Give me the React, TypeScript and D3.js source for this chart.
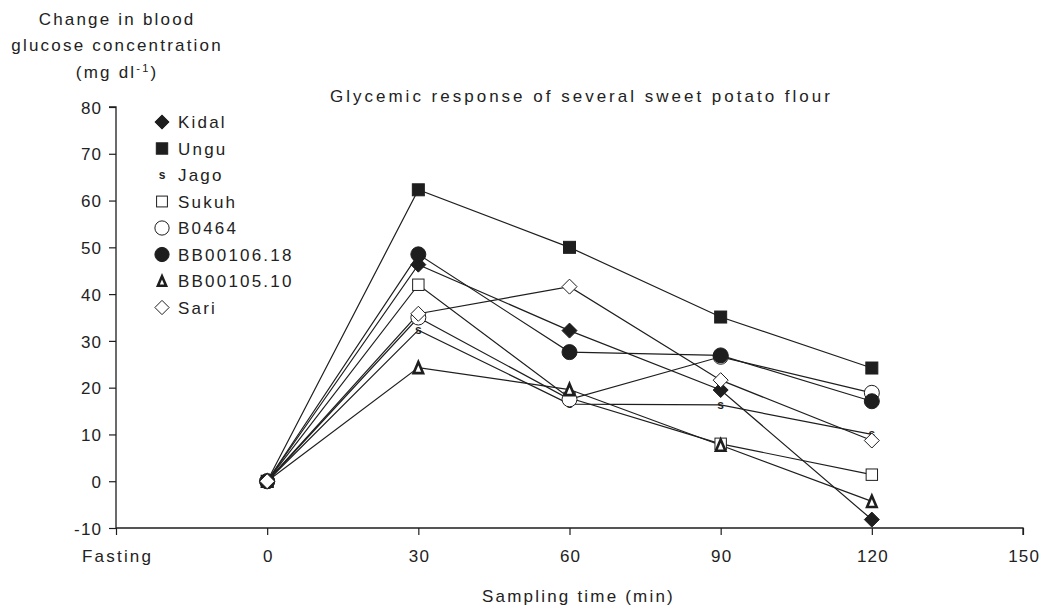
import React, { useEffect, useRef } from 'react';
import * as d3 from 'd3';

const times = [0, 30, 60, 90, 120];
const kidal = [0, 46.3, 32.2, 19.5, -8.2];
const ungu = [0, 62.3, 50.0, 35.1, 24.2];
const jago = [0, 32.3, 16.5, 16.3, 10.0];
const sukuh = [0, 42.0, 17.8, 8.0, 1.4];
const b0464 = [0, 35.0, 17.5, 26.6, 18.9];
const bb10618 = [0, 48.5, 27.6, 26.9, 17.1];
const bb10510 = [0, 24.3, 19.6, 7.7, -4.3];
const sari = [0, 35.8, 41.6, 21.6, 8.7];

const xTicks = [-30, 0, 30, 60, 90, 120, 150];
const xTickLabels = ['Fasting', '0', '30', '60', '90', '120', '150'];
const yTicks = [-10, 0, 10, 20, 30, 40, 50, 60, 70, 80];

const series = [
  { name: 'Kidal', values: kidal, marker: 'diamondFilled' },
  { name: 'Ungu', values: ungu, marker: 'squareFilled' },
  { name: 'Jago', values: jago, marker: 's' },
  { name: 'Sukuh', values: sukuh, marker: 'squareOpen' },
  { name: 'B0464', values: b0464, marker: 'circleOpen' },
  { name: 'BB00106.18', values: bb10618, marker: 'circleFilled' },
  { name: 'BB00105.10', values: bb10510, marker: 'triangle' },
  { name: 'Sari', values: sari, marker: 'diamondOpen' },
];

const INK = '#1e1e1e';
const TXT = '#222';
const FONT = '"Liberation Sans", Arial, sans-serif';
const FS = 17;
const LS = 2.2;
const LS_NUM = 1.2;

function drawMarker(g: any, kind: string, cx: number, cy: number, legend = false) {
  const k = legend ? 0.95 : 1;
  if (kind === 'diamondFilled' || kind === 'diamondOpen') {
    const s = 7.5 * k;
    g.append('path')
      .attr('d', `M${cx},${cy - s}L${cx + s},${cy}L${cx},${cy + s}L${cx - s},${cy}Z`)
      .attr('fill', kind === 'diamondFilled' ? INK : '#fff')
      .attr('stroke', INK)
      .attr('stroke-width', 1);
  } else if (kind === 'squareFilled' || kind === 'squareOpen') {
    const s = (kind === 'squareFilled' ? 6 : 5.7) * k;
    g.append('rect')
      .attr('x', cx - s)
      .attr('y', cy - s)
      .attr('width', 2 * s)
      .attr('height', 2 * s)
      .attr('fill', kind === 'squareFilled' ? INK : '#fff')
      .attr('stroke', INK)
      .attr('stroke-width', 1);
  } else if (kind === 'circleFilled' || kind === 'circleOpen') {
    g.append('circle')
      .attr('cx', cx)
      .attr('cy', cy)
      .attr('r', 7.5 * k)
      .attr('fill', kind === 'circleFilled' ? INK : '#fff')
      .attr('stroke', INK)
      .attr('stroke-width', 1);
  } else if (kind === 'triangle') {
    const h = legend ? 4.8 : 5.6;
    g.append('path')
      .attr('d', `M${cx},${cy - h}L${cx + h * 0.85},${cy + h}L${cx - h * 0.85},${cy + h}Z`)
      .attr('fill', '#fff')
      .attr('stroke', INK)
      .attr('stroke-width', 2.6)
      .attr('stroke-linejoin', 'miter');
  } else if (kind === 's') {
    g.append('text')
      .attr('x', cx)
      .attr('y', cy + 4)
      .attr('text-anchor', 'middle')
      .attr('font-family', FONT)
      .attr('font-weight', 'bold')
      .attr('font-size', 12)
      .attr('fill', INK)
      .text('s');
  }
}

function styleText(sel: any, spacing = LS) {
  return sel
    .attr('font-family', FONT)
    .attr('font-size', FS)
    .attr('letter-spacing', spacing)
    .attr('fill', TXT);
}

export default function App() {
  const ref = useRef<SVGSVGElement>(null);

  useEffect(() => {
    const svg = d3.select(ref.current);
    svg.selectAll('*').remove();

    const x = d3.scaleLinear().domain([-30, 150]).range([116, 1023]);
    const y = d3.scaleLinear().domain([-10, 80]).range([528, 107]);

    // y axis
    const yAxis = svg
      .append('g')
      .attr('transform', 'translate(116,0)')
      .call(
        d3
          .axisLeft(y)
          .tickValues(yTicks)
          .tickSize(7)
          .tickPadding(8)
          .tickFormat((d) => String(d))
      );
    yAxis.select('.domain').attr('stroke', INK).attr('stroke-width', 1.3).attr('d', `M-7,${y(80)}H0V${y(-10)}`);
    yAxis.selectAll('line').attr('stroke', INK).attr('stroke-width', 1.2);
    styleText(yAxis.selectAll('text'), LS_NUM).attr('dy', '0.36em').attr('dx', LS_NUM);

    // x axis
    const xAxis = svg
      .append('g')
      .attr('transform', `translate(0,${y(-10)})`)
      .call(
        d3
          .axisBottom(x)
          .tickValues(xTicks)
          .tickSize(7)
          .tickPadding(15)
          .tickFormat((_d, i) => xTickLabels[i])
      );
    xAxis.select('.domain').attr('stroke', INK).attr('stroke-width', 1.3).attr('d', `M${x(-30)},0H${x(150)}V7`);
    xAxis.selectAll('line').attr('stroke', INK).attr('stroke-width', 1.2);
    xAxis.selectAll('text').each(function (_d: any, i: number) {
      const sp = i === 0 ? LS : LS_NUM;
      styleText(d3.select(this), sp).attr('dx', sp / 2);
    });

    // y axis title
    const yTitle = ['Change in blood', 'glucose concentration'];
    yTitle.forEach((t, i) => {
      styleText(
        svg
          .append('text')
          .attr('x', 116 + LS / 2)
          .attr('y', 25 + i * 26)
          .attr('text-anchor', 'middle')
      ).text(t);
    });
    const unit = styleText(
      svg
        .append('text')
        .attr('x', 116 + LS / 2)
        .attr('y', 78)
        .attr('text-anchor', 'middle')
    );
    unit.append('tspan').text('(mg dl');
    unit.append('tspan').attr('font-size', 11).attr('dy', -6).text('-1');
    unit.append('tspan').attr('dy', 6).text(')');

    // chart title
    styleText(svg.append('text').attr('x', 330).attr('y', 102), 3.0).text(
      'Glycemic response of several sweet potato flour'
    );

    // x axis title
    styleText(svg.append('text').attr('x', 482).attr('y', 602)).text('Sampling time (min)');

    const line = d3
      .line<number>()
      .x((_d, i) => x(times[i]))
      .y((d) => y(d));

    const lines = svg.append('g');
    series.forEach((s) => {
      lines
        .append('path')
        .datum(s.values)
        .attr('fill', 'none')
        .attr('stroke', INK)
        .attr('stroke-width', 1.2)
        .attr('d', line);
    });

    const marks = svg.append('g');
    series.forEach((s) => {
      s.values.forEach((v, i) => {
        drawMarker(marks, s.marker, x(times[i]), y(v));
      });
    });

    // legend
    const legend = svg.append('g');
    series.forEach((s, i) => {
      const ly = 122 + i * 26.5;
      drawMarker(legend, s.marker, 162, ly, true);
      styleText(legend.append('text').attr('x', 178).attr('y', ly + 6)).text(s.name);
    });
  }, []);

  return (
    <svg
      ref={ref}
      width={1039}
      height={608}
      style={{ position: 'absolute', left: 0, top: 0, background: '#fff' }}
    />
  );
}
